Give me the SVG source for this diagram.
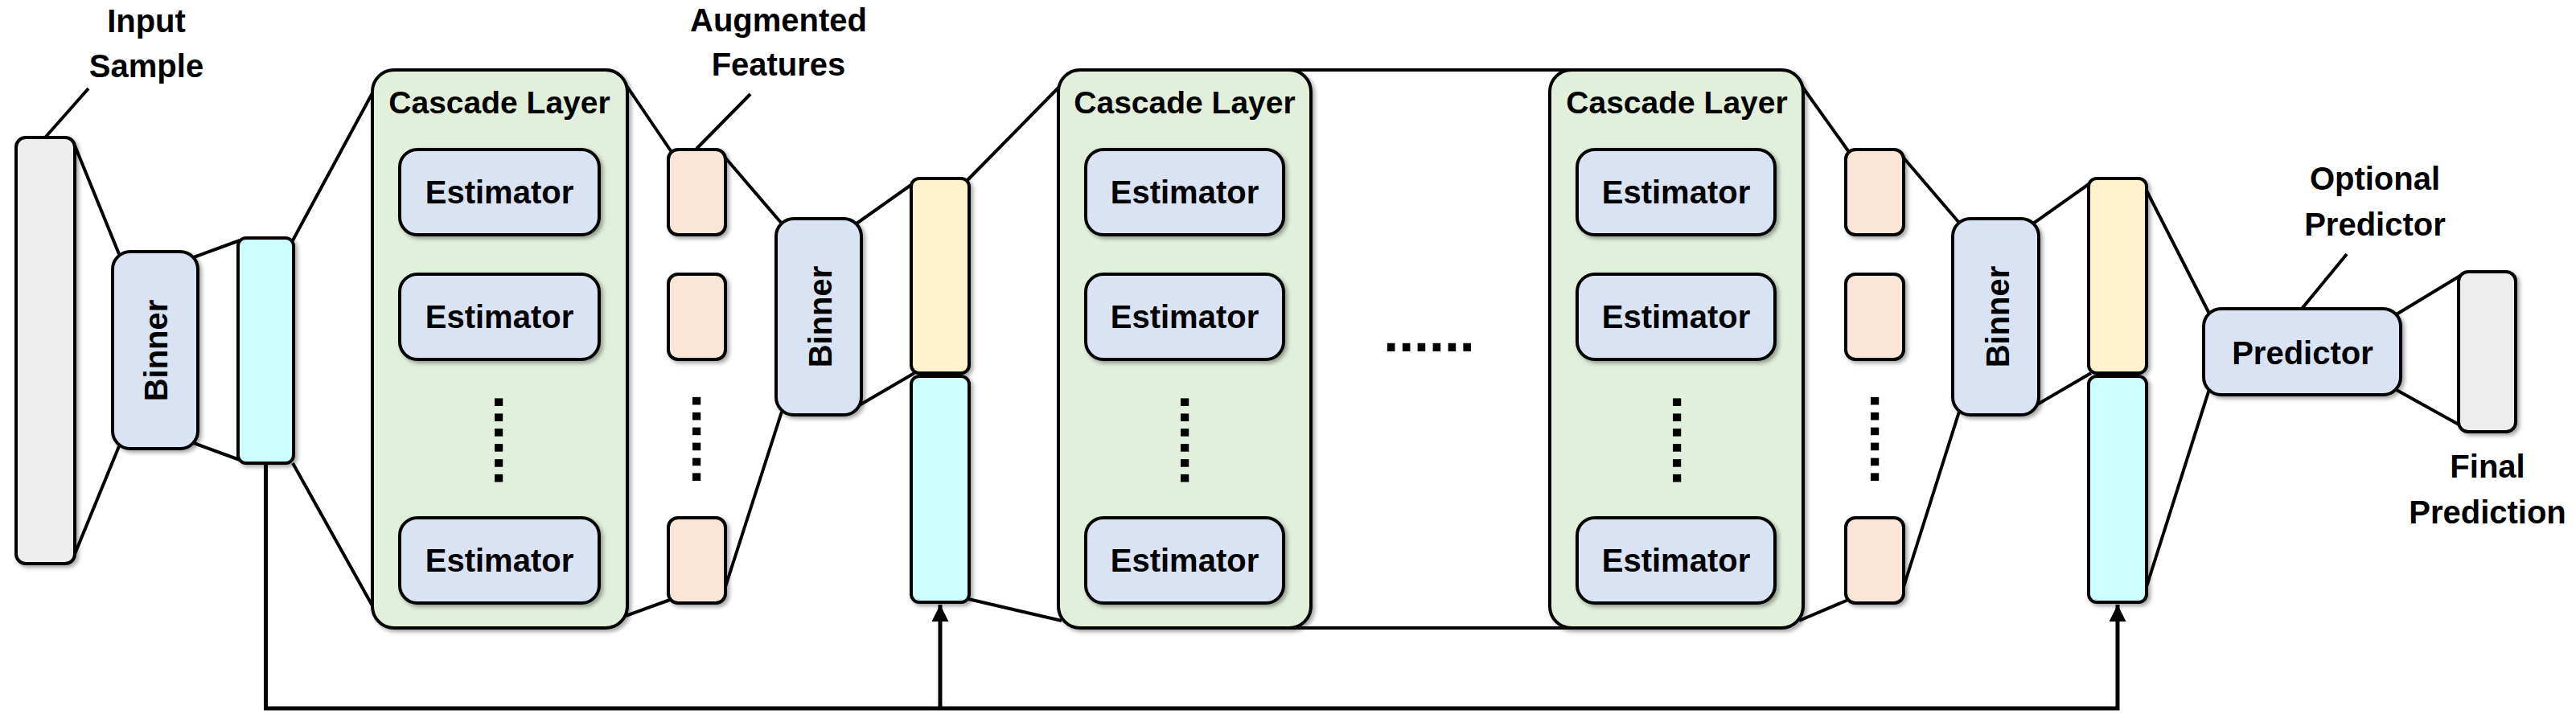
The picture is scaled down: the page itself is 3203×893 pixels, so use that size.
<svg xmlns="http://www.w3.org/2000/svg" width="3203" height="893" viewBox="0 0 3203 893">
<defs>
<filter id="sh" x="-10%" y="-10%" width="130%" height="130%">
<feDropShadow dx="3" dy="3" stdDeviation="2.5" flood-color="#000" flood-opacity="0.35"/>
</filter>
<marker id="arr" viewBox="0 0 10 10" refX="10" refY="5" markerWidth="4.2" markerHeight="4.2" markerUnits="strokeWidth" orient="auto">
<path d="M0,0 L10,5 L0,10 Z" fill="#000"/>
</marker>
<style>
.t{font-family:"Liberation Sans",Arial,sans-serif;font-weight:bold;font-size:40px;fill:#000;text-anchor:middle}
.cl{font-size:39px}
.dots{font-size:68px}
.box{stroke:#000;stroke-width:4;filter:url(#sh)}
.gray{fill:#EDEDED}
.blue{fill:#DAE3F3}
.green{fill:#E2EFDA}
.peach{fill:#FBE5D6}
.yellow{fill:#FFF2CC}
.cyan{fill:#CCFFFF}
.ln{stroke:#000;stroke-width:4;fill:none}
.fb{stroke:#000;stroke-width:5;fill:none}
</style>
</defs>
<rect width="3203" height="893" fill="#fff"/>

<g id="connectors">
<line class="ln" x1="57" y1="170" x2="110" y2="110"/>
<line class="ln" x1="93" y1="181" x2="148" y2="316"/>
<line class="ln" x1="93" y1="689" x2="148" y2="555"/>
<line class="ln" x1="241" y1="320" x2="298" y2="299"/>
<line class="ln" x1="241" y1="551" x2="298" y2="572"/>
<line class="ln" x1="364" y1="299" x2="465" y2="112"/>
<line class="ln" x1="364" y1="576" x2="465" y2="757"/>
<line class="ln" x1="778" y1="105" x2="835" y2="189"/>
<line class="ln" x1="778" y1="766" x2="833" y2="746"/>
<line class="ln" x1="866" y1="185" x2="933" y2="117"/>
<line class="ln" x1="900" y1="194" x2="972" y2="278"/>
<line class="ln" x1="900" y1="736" x2="972" y2="512"/>
<line class="ln" x1="1065" y1="278" x2="1137" y2="227"/>
<line class="ln" x1="1065" y1="506" x2="1137" y2="464"/>
<line class="ln" x1="1202" y1="225" x2="1320" y2="105"/>
<line class="ln" x1="1204" y1="745" x2="1320" y2="772"/>
<line class="ln" x1="1600" y1="87" x2="1955" y2="87"/>
<line class="ln" x1="1600" y1="781" x2="1955" y2="781"/>
<line class="ln" x1="2239" y1="105" x2="2299" y2="189"/>
<line class="ln" x1="2237" y1="772" x2="2298" y2="746"/>
<line class="ln" x1="2365" y1="194" x2="2436" y2="277"/>
<line class="ln" x1="2365" y1="736" x2="2436" y2="512"/>
<line class="ln" x1="2528" y1="278" x2="2600" y2="227"/>
<line class="ln" x1="2528" y1="506" x2="2600" y2="464"/>
<line class="ln" x1="2667" y1="233" x2="2747" y2="390"/>
<line class="ln" x1="2667" y1="736" x2="2747" y2="484"/>
<line class="ln" x1="2862" y1="384" x2="2918" y2="316"/>
<line class="ln" x1="2978" y1="392" x2="3059" y2="343"/>
<line class="ln" x1="2978" y1="484" x2="3059" y2="529"/>
<polyline class="fb" points="330.5,576 330.5,881 2633,881 2633,752" marker-end="url(#arr)"/>
<line class="fb" x1="1169" y1="881" x2="1169" y2="752" marker-end="url(#arr)"/>
</g>

<g id="input-sample">
<rect class="box gray" x="20" y="171" width="73" height="530" rx="12"/>
<text class="t" x="182" y="40">Input</text>
<text class="t" x="182" y="96">Sample</text>
</g>

<g id="binner-1">
<rect class="box blue" x="140" y="313" width="106" height="245" rx="22"/>
<text class="t" transform="translate(208,436) rotate(-90)">Binner</text>
</g>

<g id="features-1">
<rect class="box cyan" x="296" y="296" width="69" height="280" rx="10"/>
</g>

<g id="cascade-layer-1">
<rect class="box green" x="463" y="87" width="317" height="694" rx="27"/>
<text class="t cl" x="621" y="141">Cascade Layer</text>
<rect class="box blue" x="497" y="186" width="248" height="106" rx="22"/>
<text class="t" x="621" y="253">Estimator</text>
<rect class="box blue" x="497" y="341" width="248" height="106" rx="22"/>
<text class="t" x="621" y="408">Estimator</text>
<text class="t dots" transform="translate(614.5,547.5) rotate(90)">......</text>
<rect class="box blue" x="497" y="644" width="248" height="106" rx="22"/>
<text class="t" x="621" y="711">Estimator</text>
</g>

<g id="augmented-features-1">
<rect class="box peach" x="831" y="186" width="71" height="106" rx="12"/>
<rect class="box peach" x="831" y="341" width="71" height="106" rx="12"/>
<text class="t dots" transform="translate(861,546) rotate(90)">......</text>
<rect class="box peach" x="831" y="644" width="71" height="106" rx="12"/>
<text class="t" x="968" y="39">Augmented</text>
<text class="t" x="968" y="94">Features</text>
</g>

<g id="binner-2">
<rect class="box blue" x="965" y="272" width="106" height="244" rx="22"/>
<text class="t" transform="translate(1034,394) rotate(-90)">Binner</text>
</g>

<g id="features-2">
<rect class="box yellow" x="1133" y="222" width="72" height="242" rx="10"/>
<rect class="box cyan" x="1133" y="468" width="72" height="281" rx="10"/>
</g>

<g id="cascade-layer-2">
<rect class="box green" x="1316" y="87" width="314" height="694" rx="27"/>
<text class="t cl" x="1473" y="141">Cascade Layer</text>
<rect class="box blue" x="1350" y="186" width="246" height="106" rx="22"/>
<text class="t" x="1473" y="253">Estimator</text>
<rect class="box blue" x="1350" y="341" width="246" height="106" rx="22"/>
<text class="t" x="1473" y="408">Estimator</text>
<text class="t dots" transform="translate(1467.5,547.5) rotate(90)">......</text>
<rect class="box blue" x="1350" y="644" width="246" height="106" rx="22"/>
<text class="t" x="1473" y="711">Estimator</text>
</g>

<g id="ellipsis">
<text class="t dots" x="1777" y="437">......</text>
</g>

<g id="cascade-layer-3">
<rect class="box green" x="1927" y="87" width="315" height="694" rx="27"/>
<text class="t cl" x="2085" y="141">Cascade Layer</text>
<rect class="box blue" x="1961" y="186" width="246" height="106" rx="22"/>
<text class="t" x="2084" y="253">Estimator</text>
<rect class="box blue" x="1961" y="341" width="246" height="106" rx="22"/>
<text class="t" x="2084" y="408">Estimator</text>
<text class="t dots" transform="translate(2079.5,547.5) rotate(90)">......</text>
<rect class="box blue" x="1961" y="644" width="246" height="106" rx="22"/>
<text class="t" x="2084" y="711">Estimator</text>
</g>

<g id="augmented-features-3">
<rect class="box peach" x="2295" y="186" width="72" height="106" rx="12"/>
<rect class="box peach" x="2295" y="341" width="72" height="106" rx="12"/>
<text class="t dots" transform="translate(2325.5,546) rotate(90)">......</text>
<rect class="box peach" x="2295" y="644" width="72" height="106" rx="12"/>
</g>

<g id="binner-3">
<rect class="box blue" x="2428" y="272" width="107" height="244" rx="22"/>
<text class="t" transform="translate(2498,394) rotate(-90)">Binner</text>
</g>

<g id="features-3">
<rect class="box yellow" x="2597" y="222" width="72" height="242" rx="10"/>
<rect class="box cyan" x="2597" y="468" width="72" height="281" rx="10"/>
</g>

<g id="predictor">
<rect class="box blue" x="2740" y="384" width="245" height="107" rx="22"/>
<text class="t" x="2863" y="453">Predictor</text>
<text class="t" x="2953" y="236">Optional</text>
<text class="t" x="2953" y="293">Predictor</text>
</g>

<g id="final-prediction">
<rect class="box gray" x="3057" y="338" width="71" height="199" rx="12"/>
<text class="t" x="3093" y="594">Final</text>
<text class="t" x="3093" y="651">Prediction</text>
</g>
</svg>
